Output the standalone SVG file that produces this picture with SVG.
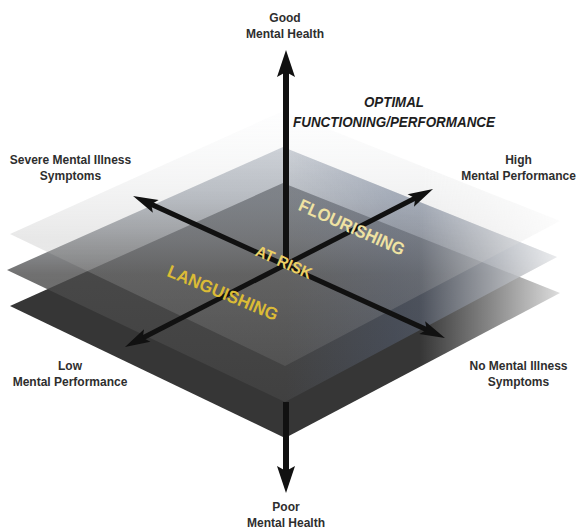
<svg xmlns="http://www.w3.org/2000/svg" width="577" height="529" viewBox="0 0 577 529">
  <style>
    .lbl { font-family: "Liberation Sans", Arial, sans-serif; font-weight: bold; font-size: 12px; fill: #2e2e2e; text-anchor: middle; }
    .title { font-family: "Liberation Sans", Arial, sans-serif; font-weight: bold; font-style: italic; font-size: 14.5px; fill: #1e1e1e; text-anchor: middle; }
    .zone { font-family: "Liberation Sans", Arial, sans-serif; font-weight: bold; text-anchor: middle; }
    .axis { stroke: #111; fill: none; }
  </style>
  <defs>
    <!-- top plane: pale veil, lightening towards its upper corner -->
    <linearGradient id="gTop" gradientUnits="userSpaceOnUse" x1="0" y1="366" x2="0" y2="111">
      <stop offset="0" stop-color="#9a9a9a" stop-opacity="0.18"/>
      <stop offset="0.5" stop-color="#b2b2b2" stop-opacity="0.3"/>
      <stop offset="1" stop-color="#eceff2" stop-opacity="0.1"/>
    </linearGradient>
    <!-- middle plane: dark grey below, cool light grey above -->
    <linearGradient id="gMid" gradientUnits="userSpaceOnUse" x1="0" y1="402" x2="0" y2="147">
      <stop offset="0" stop-color="#424242" stop-opacity="0.86"/>
      <stop offset="0.5" stop-color="#4c4c4c" stop-opacity="0.8"/>
      <stop offset="0.8" stop-color="#868e9a" stop-opacity="0.62"/>
      <stop offset="1" stop-color="#a0a8b4" stop-opacity="0.55"/>
    </linearGradient>
    <!-- bluish cast on the right half of the stack -->
    <linearGradient id="gTint" gradientUnits="userSpaceOnUse" x1="285" y1="0" x2="560" y2="0">
      <stop offset="0" stop-color="#50648c" stop-opacity="0"/>
      <stop offset="0.4" stop-color="#50648c" stop-opacity="0.26"/>
      <stop offset="1" stop-color="#aabad6" stop-opacity="0.32"/>
    </linearGradient>
    <!-- planes dissolve towards their right corners -->
    <linearGradient id="gFade" gradientUnits="userSpaceOnUse" x1="420" y1="0" x2="575" y2="0">
      <stop offset="0" stop-color="#fff"/>
      <stop offset="0.45" stop-color="#999"/>
      <stop offset="0.87" stop-color="#333"/>
      <stop offset="1" stop-color="#000"/>
    </linearGradient>
    <mask id="fadeRight" maskUnits="userSpaceOnUse" x="0" y="0" width="577" height="529">
      <rect width="577" height="529" fill="url(#gFade)"/>
    </mask>
    <marker id="headV" markerUnits="userSpaceOnUse" viewBox="-12 -10 30 20" markerWidth="30" markerHeight="20" refX="0" refY="0" orient="auto-start-reverse">
      <path d="M-10,-9 L17,0 L-10,9 L-5,0 Z" fill="#111"/>
    </marker>
    <marker id="headD" markerUnits="userSpaceOnUse" viewBox="-12 -10 30 20" markerWidth="30" markerHeight="20" refX="0" refY="0" orient="auto-start-reverse">
      <path d="M-9,-7 L16,0 L-9,7 L-4,0 Z" fill="#111"/>
    </marker>
  </defs>

  <rect width="577" height="529" fill="#fff"/>

  <!-- stacked planes -->
  <g id="planes" mask="url(#fadeRight)">
    <g id="plane-bottom">
      <path d="M10,306 L283,183 L560,293 L285,438 Z" fill="#363636"/>
    </g>
    <g id="plane-middle">
      <path d="M7,270 L283,147 L557,257 L285,402 Z" fill="url(#gMid)"/>
      <path d="M7,270 L283,147 L557,257 L285,402 Z" fill="url(#gTint)"/>
    </g>
    <g id="plane-top">
      <path d="M10,234 L283,111 L560,221 L285,366 Z" fill="url(#gTop)"/>
    </g>
  </g>

  <!-- axes -->
  <g id="axes">
    <line class="axis" x1="286" y1="67" x2="286" y2="265" stroke-width="6" marker-start="url(#headV)"/>
    <line class="axis" x1="286" y1="402" x2="286" y2="476" stroke-width="6" marker-end="url(#headV)"/>
    <line class="axis" x1="147.6" y1="202.6" x2="430.4" y2="331.4" stroke-width="5" marker-start="url(#headD)" marker-end="url(#headD)"/>
    <line class="axis" x1="139.2" y1="339.7" x2="418.8" y2="196.3" stroke-width="5" marker-start="url(#headD)" marker-end="url(#headD)"/>
  </g>

  <!-- zone names on the planes -->
  <g id="zone-flourishing">
    <text class="zone" transform="translate(352,227) rotate(24)" y="6.3" font-size="17.5" textLength="114" lengthAdjust="spacingAndGlyphs" fill="#efe2a2">FLOURISHING</text>
  </g>
  <g id="zone-at-risk">
    <text class="zone" transform="translate(284,262) rotate(23.5)" y="5.8" font-size="16" textLength="60" lengthAdjust="spacingAndGlyphs" fill="#ecd064">AT RISK</text>
  </g>
  <g id="zone-languishing">
    <text class="zone" transform="translate(223,292.5) rotate(22.5)" y="6.3" font-size="17.5" textLength="118" lengthAdjust="spacingAndGlyphs" fill="#dbbb36">LANGUISHING</text>
  </g>

  <g id="title">
    <text class="title" x="394" y="107" textLength="60" lengthAdjust="spacingAndGlyphs">OPTIMAL</text>
    <text class="title" x="394" y="127" textLength="202" lengthAdjust="spacingAndGlyphs">FUNCTIONING/PERFORMANCE</text>
  </g>

  <!-- axis end labels -->
  <g id="label-good">
    <text class="lbl" x="285" y="22">Good</text>
    <text class="lbl" x="285" y="38">Mental Health</text>
  </g>
  <g id="label-severe">
    <text class="lbl" x="70.5" y="164">Severe Mental Illness</text>
    <text class="lbl" x="70.5" y="180">Symptoms</text>
  </g>
  <g id="label-high">
    <text class="lbl" x="518.5" y="164">High</text>
    <text class="lbl" x="518.5" y="180">Mental Performance</text>
  </g>
  <g id="label-low">
    <text class="lbl" x="70" y="370">Low</text>
    <text class="lbl" x="70" y="386">Mental Performance</text>
  </g>
  <g id="label-none">
    <text class="lbl" x="518.5" y="370">No Mental Illness</text>
    <text class="lbl" x="518.5" y="386">Symptoms</text>
  </g>
  <g id="label-poor">
    <text class="lbl" x="286" y="511">Poor</text>
    <text class="lbl" x="286" y="527">Mental Health</text>
  </g>
</svg>
